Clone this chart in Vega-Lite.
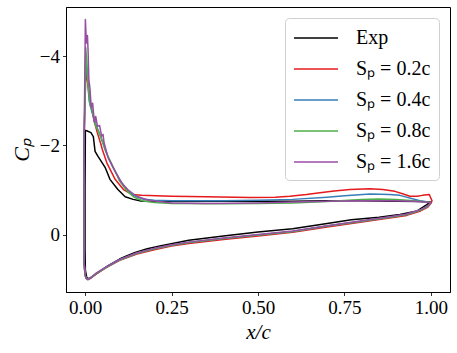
{
  "$schema": "https://vega.github.io/schema/vega-lite/v6.json",
  "width": 384,
  "height": 285,
  "autosize": "none",
  "padding": {"left": 66, "top": 7, "right": 7, "bottom": 61},
  "background": "white",
  "config": {
    "view": {"stroke": "black", "strokeWidth": 1},
    "font": "Liberation Serif"
  },
  "data": {
    "values": [
      {"s": "Exp", "x": 1.0, "cp": -0.74}, {"s": "Exp", "x": 0.988, "cp": -0.67}, {"s": "Exp", "x": 0.96, "cp": -0.53}, {"s": "Exp", "x": 0.91, "cp": -0.45}, {"s": "Exp", "x": 0.85, "cp": -0.39}, {"s": "Exp", "x": 0.77, "cp": -0.33}, {"s": "Exp", "x": 0.7, "cp": -0.25}, {"s": "Exp", "x": 0.6, "cp": -0.13}, {"s": "Exp", "x": 0.5, "cp": -0.06}, {"s": "Exp", "x": 0.4, "cp": 0.03}, {"s": "Exp", "x": 0.3, "cp": 0.13}, {"s": "Exp", "x": 0.22, "cp": 0.25}, {"s": "Exp", "x": 0.18, "cp": 0.32}, {"s": "Exp", "x": 0.145, "cp": 0.4}, {"s": "Exp", "x": 0.12, "cp": 0.48}, {"s": "Exp", "x": 0.1, "cp": 0.55}, {"s": "Exp", "x": 0.067, "cp": 0.7}, {"s": "Exp", "x": 0.04, "cp": 0.84}, {"s": "Exp", "x": 0.02, "cp": 0.95}, {"s": "Exp", "x": 0.01, "cp": 0.99}, {"s": "Exp", "x": 0.005, "cp": 0.97}, {"s": "Exp", "x": 0.001, "cp": 0.8}, {"s": "Exp", "x": 0.0, "cp": 0.3}, {"s": "Exp", "x": 0.0, "cp": -1.0}, {"s": "Exp", "x": 0.001, "cp": -2.34}, {"s": "Exp", "x": 0.005, "cp": -2.33}, {"s": "Exp", "x": 0.017, "cp": -2.29}, {"s": "Exp", "x": 0.024, "cp": -2.2}, {"s": "Exp", "x": 0.029, "cp": -1.87}, {"s": "Exp", "x": 0.038, "cp": -1.75}, {"s": "Exp", "x": 0.058, "cp": -1.51}, {"s": "Exp", "x": 0.072, "cp": -1.24}, {"s": "Exp", "x": 0.095, "cp": -1.01}, {"s": "Exp", "x": 0.116, "cp": -0.85}, {"s": "Exp", "x": 0.139, "cp": -0.79}, {"s": "Exp", "x": 0.165, "cp": -0.75}, {"s": "Exp", "x": 0.25, "cp": -0.74}, {"s": "Exp", "x": 0.4, "cp": -0.75}, {"s": "Exp", "x": 0.5, "cp": -0.75}, {"s": "Exp", "x": 0.6, "cp": -0.75}, {"s": "Exp", "x": 0.7, "cp": -0.76}, {"s": "Exp", "x": 0.8, "cp": -0.76}, {"s": "Exp", "x": 0.9, "cp": -0.75}, {"s": "Exp", "x": 0.97, "cp": -0.74}, {"s": "Exp", "x": 1.0, "cp": -0.73},

      {"s": "Sₚ = 0.2c", "x": 1.0, "cp": -0.7}, {"s": "Sₚ = 0.2c", "x": 0.99, "cp": -0.61}, {"s": "Sₚ = 0.2c", "x": 0.97, "cp": -0.53}, {"s": "Sₚ = 0.2c", "x": 0.93, "cp": -0.43}, {"s": "Sₚ = 0.2c", "x": 0.88, "cp": -0.37}, {"s": "Sₚ = 0.2c", "x": 0.8, "cp": -0.28}, {"s": "Sₚ = 0.2c", "x": 0.7, "cp": -0.17}, {"s": "Sₚ = 0.2c", "x": 0.6, "cp": -0.05}, {"s": "Sₚ = 0.2c", "x": 0.5, "cp": 0.03}, {"s": "Sₚ = 0.2c", "x": 0.4, "cp": 0.11}, {"s": "Sₚ = 0.2c", "x": 0.3, "cp": 0.2}, {"s": "Sₚ = 0.2c", "x": 0.25, "cp": 0.26}, {"s": "Sₚ = 0.2c", "x": 0.2, "cp": 0.34}, {"s": "Sₚ = 0.2c", "x": 0.15, "cp": 0.44}, {"s": "Sₚ = 0.2c", "x": 0.1, "cp": 0.58}, {"s": "Sₚ = 0.2c", "x": 0.06, "cp": 0.75}, {"s": "Sₚ = 0.2c", "x": 0.03, "cp": 0.9}, {"s": "Sₚ = 0.2c", "x": 0.015, "cp": 0.99}, {"s": "Sₚ = 0.2c", "x": 0.008, "cp": 1.01}, {"s": "Sₚ = 0.2c", "x": 0.003, "cp": 0.98}, {"s": "Sₚ = 0.2c", "x": 0.0, "cp": 0.9}, {"s": "Sₚ = 0.2c", "x": -0.003, "cp": 0.6}, {"s": "Sₚ = 0.2c", "x": -0.003, "cp": -1.0}, {"s": "Sₚ = 0.2c", "x": -0.003, "cp": -2.0}, {"s": "Sₚ = 0.2c", "x": 0.0, "cp": -3.0}, {"s": "Sₚ = 0.2c", "x": 0.003, "cp": -3.7}, {"s": "Sₚ = 0.2c", "x": 0.008, "cp": -3.4}, {"s": "Sₚ = 0.2c", "x": 0.015, "cp": -3.0}, {"s": "Sₚ = 0.2c", "x": 0.025, "cp": -2.6}, {"s": "Sₚ = 0.2c", "x": 0.035, "cp": -2.3}, {"s": "Sₚ = 0.2c", "x": 0.045, "cp": -2.05}, {"s": "Sₚ = 0.2c", "x": 0.05, "cp": -1.91}, {"s": "Sₚ = 0.2c", "x": 0.063, "cp": -1.61}, {"s": "Sₚ = 0.2c", "x": 0.087, "cp": -1.24}, {"s": "Sₚ = 0.2c", "x": 0.111, "cp": -1.01}, {"s": "Sₚ = 0.2c", "x": 0.135, "cp": -0.9}, {"s": "Sₚ = 0.2c", "x": 0.164, "cp": -0.88}, {"s": "Sₚ = 0.2c", "x": 0.25, "cp": -0.86}, {"s": "Sₚ = 0.2c", "x": 0.35, "cp": -0.85}, {"s": "Sₚ = 0.2c", "x": 0.477, "cp": -0.83}, {"s": "Sₚ = 0.2c", "x": 0.55, "cp": -0.84}, {"s": "Sₚ = 0.2c", "x": 0.592, "cp": -0.86}, {"s": "Sₚ = 0.2c", "x": 0.64, "cp": -0.9}, {"s": "Sₚ = 0.2c", "x": 0.679, "cp": -0.94}, {"s": "Sₚ = 0.2c", "x": 0.72, "cp": -0.98}, {"s": "Sₚ = 0.2c", "x": 0.766, "cp": -1.01}, {"s": "Sₚ = 0.2c", "x": 0.824, "cp": -1.03}, {"s": "Sₚ = 0.2c", "x": 0.86, "cp": -1.01}, {"s": "Sₚ = 0.2c", "x": 0.896, "cp": -0.97}, {"s": "Sₚ = 0.2c", "x": 0.92, "cp": -0.91}, {"s": "Sₚ = 0.2c", "x": 0.939, "cp": -0.86}, {"s": "Sₚ = 0.2c", "x": 0.96, "cp": -0.86}, {"s": "Sₚ = 0.2c", "x": 0.975, "cp": -0.88}, {"s": "Sₚ = 0.2c", "x": 0.995, "cp": -0.9}, {"s": "Sₚ = 0.2c", "x": 1.003, "cp": -0.76}, {"s": "Sₚ = 0.2c", "x": 1.0, "cp": -0.7},

      {"s": "Sₚ = 0.4c", "x": 1.0, "cp": -0.72}, {"s": "Sₚ = 0.4c", "x": 0.99, "cp": -0.63}, {"s": "Sₚ = 0.4c", "x": 0.97, "cp": -0.55}, {"s": "Sₚ = 0.4c", "x": 0.93, "cp": -0.45}, {"s": "Sₚ = 0.4c", "x": 0.88, "cp": -0.39}, {"s": "Sₚ = 0.4c", "x": 0.8, "cp": -0.3}, {"s": "Sₚ = 0.4c", "x": 0.7, "cp": -0.19}, {"s": "Sₚ = 0.4c", "x": 0.6, "cp": -0.07}, {"s": "Sₚ = 0.4c", "x": 0.5, "cp": 0.01}, {"s": "Sₚ = 0.4c", "x": 0.4, "cp": 0.09}, {"s": "Sₚ = 0.4c", "x": 0.3, "cp": 0.18}, {"s": "Sₚ = 0.4c", "x": 0.25, "cp": 0.24}, {"s": "Sₚ = 0.4c", "x": 0.2, "cp": 0.32}, {"s": "Sₚ = 0.4c", "x": 0.15, "cp": 0.42}, {"s": "Sₚ = 0.4c", "x": 0.1, "cp": 0.57}, {"s": "Sₚ = 0.4c", "x": 0.06, "cp": 0.74}, {"s": "Sₚ = 0.4c", "x": 0.03, "cp": 0.89}, {"s": "Sₚ = 0.4c", "x": 0.015, "cp": 0.98}, {"s": "Sₚ = 0.4c", "x": 0.008, "cp": 1.01}, {"s": "Sₚ = 0.4c", "x": 0.003, "cp": 0.98}, {"s": "Sₚ = 0.4c", "x": 0.0, "cp": 0.9}, {"s": "Sₚ = 0.4c", "x": -0.003, "cp": 0.6}, {"s": "Sₚ = 0.4c", "x": -0.003, "cp": -1.0}, {"s": "Sₚ = 0.4c", "x": -0.003, "cp": -2.0}, {"s": "Sₚ = 0.4c", "x": 0.0, "cp": -3.2}, {"s": "Sₚ = 0.4c", "x": 0.002, "cp": -4.0}, {"s": "Sₚ = 0.4c", "x": 0.006, "cp": -3.6}, {"s": "Sₚ = 0.4c", "x": 0.012, "cp": -3.0}, {"s": "Sₚ = 0.4c", "x": 0.02, "cp": -2.75}, {"s": "Sₚ = 0.4c", "x": 0.03, "cp": -2.5}, {"s": "Sₚ = 0.4c", "x": 0.045, "cp": -2.2}, {"s": "Sₚ = 0.4c", "x": 0.06, "cp": -1.86}, {"s": "Sₚ = 0.4c", "x": 0.08, "cp": -1.52}, {"s": "Sₚ = 0.4c", "x": 0.1, "cp": -1.24}, {"s": "Sₚ = 0.4c", "x": 0.12, "cp": -1.01}, {"s": "Sₚ = 0.4c", "x": 0.14, "cp": -0.88}, {"s": "Sₚ = 0.4c", "x": 0.165, "cp": -0.8}, {"s": "Sₚ = 0.4c", "x": 0.2, "cp": -0.77}, {"s": "Sₚ = 0.4c", "x": 0.25, "cp": -0.76}, {"s": "Sₚ = 0.4c", "x": 0.4, "cp": -0.76}, {"s": "Sₚ = 0.4c", "x": 0.5, "cp": -0.77}, {"s": "Sₚ = 0.4c", "x": 0.6, "cp": -0.79}, {"s": "Sₚ = 0.4c", "x": 0.7, "cp": -0.84}, {"s": "Sₚ = 0.4c", "x": 0.75, "cp": -0.87}, {"s": "Sₚ = 0.4c", "x": 0.824, "cp": -0.91}, {"s": "Sₚ = 0.4c", "x": 0.88, "cp": -0.9}, {"s": "Sₚ = 0.4c", "x": 0.91, "cp": -0.88}, {"s": "Sₚ = 0.4c", "x": 0.968, "cp": -0.76}, {"s": "Sₚ = 0.4c", "x": 1.0, "cp": -0.72},

      {"s": "Sₚ = 0.8c", "x": 1.0, "cp": -0.72}, {"s": "Sₚ = 0.8c", "x": 0.99, "cp": -0.63}, {"s": "Sₚ = 0.8c", "x": 0.97, "cp": -0.55}, {"s": "Sₚ = 0.8c", "x": 0.93, "cp": -0.45}, {"s": "Sₚ = 0.8c", "x": 0.88, "cp": -0.39}, {"s": "Sₚ = 0.8c", "x": 0.8, "cp": -0.3}, {"s": "Sₚ = 0.8c", "x": 0.7, "cp": -0.19}, {"s": "Sₚ = 0.8c", "x": 0.6, "cp": -0.07}, {"s": "Sₚ = 0.8c", "x": 0.5, "cp": 0.01}, {"s": "Sₚ = 0.8c", "x": 0.4, "cp": 0.09}, {"s": "Sₚ = 0.8c", "x": 0.3, "cp": 0.18}, {"s": "Sₚ = 0.8c", "x": 0.25, "cp": 0.24}, {"s": "Sₚ = 0.8c", "x": 0.2, "cp": 0.32}, {"s": "Sₚ = 0.8c", "x": 0.15, "cp": 0.42}, {"s": "Sₚ = 0.8c", "x": 0.1, "cp": 0.57}, {"s": "Sₚ = 0.8c", "x": 0.06, "cp": 0.74}, {"s": "Sₚ = 0.8c", "x": 0.03, "cp": 0.89}, {"s": "Sₚ = 0.8c", "x": 0.015, "cp": 0.98}, {"s": "Sₚ = 0.8c", "x": 0.008, "cp": 1.01}, {"s": "Sₚ = 0.8c", "x": 0.003, "cp": 0.98}, {"s": "Sₚ = 0.8c", "x": 0.0, "cp": 0.9}, {"s": "Sₚ = 0.8c", "x": -0.003, "cp": 0.6}, {"s": "Sₚ = 0.8c", "x": -0.003, "cp": -1.0}, {"s": "Sₚ = 0.8c", "x": -0.003, "cp": -2.0}, {"s": "Sₚ = 0.8c", "x": 0.0, "cp": -3.0}, {"s": "Sₚ = 0.8c", "x": 0.002, "cp": -4.2}, {"s": "Sₚ = 0.8c", "x": 0.005, "cp": -3.9}, {"s": "Sₚ = 0.8c", "x": 0.009, "cp": -3.3}, {"s": "Sₚ = 0.8c", "x": 0.015, "cp": -2.9}, {"s": "Sₚ = 0.8c", "x": 0.022, "cp": -2.75}, {"s": "Sₚ = 0.8c", "x": 0.03, "cp": -2.45}, {"s": "Sₚ = 0.8c", "x": 0.04, "cp": -2.3}, {"s": "Sₚ = 0.8c", "x": 0.05, "cp": -2.1}, {"s": "Sₚ = 0.8c", "x": 0.065, "cp": -1.78}, {"s": "Sₚ = 0.8c", "x": 0.085, "cp": -1.46}, {"s": "Sₚ = 0.8c", "x": 0.1, "cp": -1.2}, {"s": "Sₚ = 0.8c", "x": 0.12, "cp": -0.99}, {"s": "Sₚ = 0.8c", "x": 0.14, "cp": -0.85}, {"s": "Sₚ = 0.8c", "x": 0.165, "cp": -0.76}, {"s": "Sₚ = 0.8c", "x": 0.2, "cp": -0.72}, {"s": "Sₚ = 0.8c", "x": 0.25, "cp": -0.7}, {"s": "Sₚ = 0.8c", "x": 0.4, "cp": -0.69}, {"s": "Sₚ = 0.8c", "x": 0.5, "cp": -0.7}, {"s": "Sₚ = 0.8c", "x": 0.6, "cp": -0.71}, {"s": "Sₚ = 0.8c", "x": 0.7, "cp": -0.74}, {"s": "Sₚ = 0.8c", "x": 0.8, "cp": -0.79}, {"s": "Sₚ = 0.8c", "x": 0.85, "cp": -0.8}, {"s": "Sₚ = 0.8c", "x": 0.9, "cp": -0.79}, {"s": "Sₚ = 0.8c", "x": 0.95, "cp": -0.76}, {"s": "Sₚ = 0.8c", "x": 1.0, "cp": -0.72},

      {"s": "Sₚ = 1.6c", "x": 1.0, "cp": -0.72}, {"s": "Sₚ = 1.6c", "x": 0.99, "cp": -0.64}, {"s": "Sₚ = 1.6c", "x": 0.97, "cp": -0.56}, {"s": "Sₚ = 1.6c", "x": 0.93, "cp": -0.46}, {"s": "Sₚ = 1.6c", "x": 0.88, "cp": -0.4}, {"s": "Sₚ = 1.6c", "x": 0.8, "cp": -0.31}, {"s": "Sₚ = 1.6c", "x": 0.7, "cp": -0.2}, {"s": "Sₚ = 1.6c", "x": 0.6, "cp": -0.08}, {"s": "Sₚ = 1.6c", "x": 0.5, "cp": 0.0}, {"s": "Sₚ = 1.6c", "x": 0.4, "cp": 0.08}, {"s": "Sₚ = 1.6c", "x": 0.3, "cp": 0.17}, {"s": "Sₚ = 1.6c", "x": 0.25, "cp": 0.23}, {"s": "Sₚ = 1.6c", "x": 0.2, "cp": 0.31}, {"s": "Sₚ = 1.6c", "x": 0.15, "cp": 0.41}, {"s": "Sₚ = 1.6c", "x": 0.1, "cp": 0.56}, {"s": "Sₚ = 1.6c", "x": 0.06, "cp": 0.73}, {"s": "Sₚ = 1.6c", "x": 0.03, "cp": 0.88}, {"s": "Sₚ = 1.6c", "x": 0.015, "cp": 0.98}, {"s": "Sₚ = 1.6c", "x": 0.008, "cp": 1.01}, {"s": "Sₚ = 1.6c", "x": 0.003, "cp": 0.98}, {"s": "Sₚ = 1.6c", "x": 0.0, "cp": 0.9}, {"s": "Sₚ = 1.6c", "x": -0.003, "cp": 0.6}, {"s": "Sₚ = 1.6c", "x": -0.003, "cp": -1.0}, {"s": "Sₚ = 1.6c", "x": -0.003, "cp": -2.0}, {"s": "Sₚ = 1.6c", "x": -0.001, "cp": -3.3}, {"s": "Sₚ = 1.6c", "x": 0.001, "cp": -4.83}, {"s": "Sₚ = 1.6c", "x": 0.004, "cp": -4.3}, {"s": "Sₚ = 1.6c", "x": 0.007, "cp": -4.47}, {"s": "Sₚ = 1.6c", "x": 0.009, "cp": -4.09}, {"s": "Sₚ = 1.6c", "x": 0.011, "cp": -3.48}, {"s": "Sₚ = 1.6c", "x": 0.014, "cp": -3.3}, {"s": "Sₚ = 1.6c", "x": 0.018, "cp": -2.85}, {"s": "Sₚ = 1.6c", "x": 0.022, "cp": -2.95}, {"s": "Sₚ = 1.6c", "x": 0.027, "cp": -2.52}, {"s": "Sₚ = 1.6c", "x": 0.031, "cp": -2.65}, {"s": "Sₚ = 1.6c", "x": 0.036, "cp": -2.43}, {"s": "Sₚ = 1.6c", "x": 0.042, "cp": -2.45}, {"s": "Sₚ = 1.6c", "x": 0.048, "cp": -2.21}, {"s": "Sₚ = 1.6c", "x": 0.052, "cp": -2.25}, {"s": "Sₚ = 1.6c", "x": 0.055, "cp": -2.06}, {"s": "Sₚ = 1.6c", "x": 0.067, "cp": -1.72}, {"s": "Sₚ = 1.6c", "x": 0.087, "cp": -1.42}, {"s": "Sₚ = 1.6c", "x": 0.106, "cp": -1.16}, {"s": "Sₚ = 1.6c", "x": 0.125, "cp": -1.0}, {"s": "Sₚ = 1.6c", "x": 0.149, "cp": -0.86}, {"s": "Sₚ = 1.6c", "x": 0.183, "cp": -0.77}, {"s": "Sₚ = 1.6c", "x": 0.25, "cp": -0.71}, {"s": "Sₚ = 1.6c", "x": 0.35, "cp": -0.7}, {"s": "Sₚ = 1.6c", "x": 0.5, "cp": -0.71}, {"s": "Sₚ = 1.6c", "x": 0.6, "cp": -0.73}, {"s": "Sₚ = 1.6c", "x": 0.7, "cp": -0.75}, {"s": "Sₚ = 1.6c", "x": 0.8, "cp": -0.76}, {"s": "Sₚ = 1.6c", "x": 0.88, "cp": -0.76}, {"s": "Sₚ = 1.6c", "x": 0.95, "cp": -0.75}, {"s": "Sₚ = 1.6c", "x": 1.0, "cp": -0.72}
    ]
  },
  "mark": {"type": "line", "strokeWidth": 1.5, "strokeJoin": "round"},
  "encoding": {
    "x": {
      "field": "x", "type": "quantitative",
      "scale": {"domain": [-0.055, 1.055], "nice": false, "zero": false},
      "axis": {
        "title": "x/c", "values": [0, 0.25, 0.5, 0.75, 1.0], "format": ".2f",
        "grid": false, "domainColor": "black", "tickColor": "black", "tickSize": 3.5, "tickWidth": 0.8,
        "labelFont": "Liberation Serif", "labelFontSize": 19, "labelColor": "black", "labelPadding": 3,
        "titleFont": "Liberation Serif", "titleFontSize": 21, "titleFontStyle": "italic", "titleFontWeight": "normal", "titleColor": "black", "titlePadding": 4
      }
    },
    "y": {
      "field": "cp", "type": "quantitative",
      "scale": {"domain": [-5.11, 1.29], "nice": false, "zero": false, "reverse": true},
      "axis": {
        "title": "Cₚ", "values": [-4, -2, 0],
        "labelExpr": "datum.value < 0 ? '−' + abs(datum.value) : '' + datum.value",
        "grid": false, "domainColor": "black", "tickColor": "black", "tickSize": 3.5, "tickWidth": 0.8,
        "labelFont": "Liberation Serif", "labelFontSize": 19, "labelColor": "black", "labelPadding": 3,
        "titleFont": "Liberation Serif", "titleFontSize": 22, "titleFontStyle": "italic", "titleFontWeight": "normal", "titleColor": "black", "titlePadding": 6
      }
    },
    "color": {
      "field": "s", "type": "nominal",
      "scale": {
        "domain": ["Exp", "Sₚ = 0.2c", "Sₚ = 0.4c", "Sₚ = 0.8c", "Sₚ = 1.6c"],
        "range": ["#000000", "#e41a1c", "#377eb8", "#4daf4a", "#984ea3"]
      },
      "legend": {
        "title": null, "orient": "top-right", "offset": 11,
        "symbolType": "M-1,0H3", "symbolSize": 484, "symbolStrokeWidth": 1.6,
        "labelFont": "Liberation Serif", "labelFontSize": 20, "labelColor": "black", "labelOffset": 39,
        "rowPadding": 9, "padding": 8,
        "fillColor": "rgba(255,255,255,0.8)", "strokeColor": "#d0d0d0", "cornerRadius": 4
      }
    },
    "order": {"value": null}
  }
}
